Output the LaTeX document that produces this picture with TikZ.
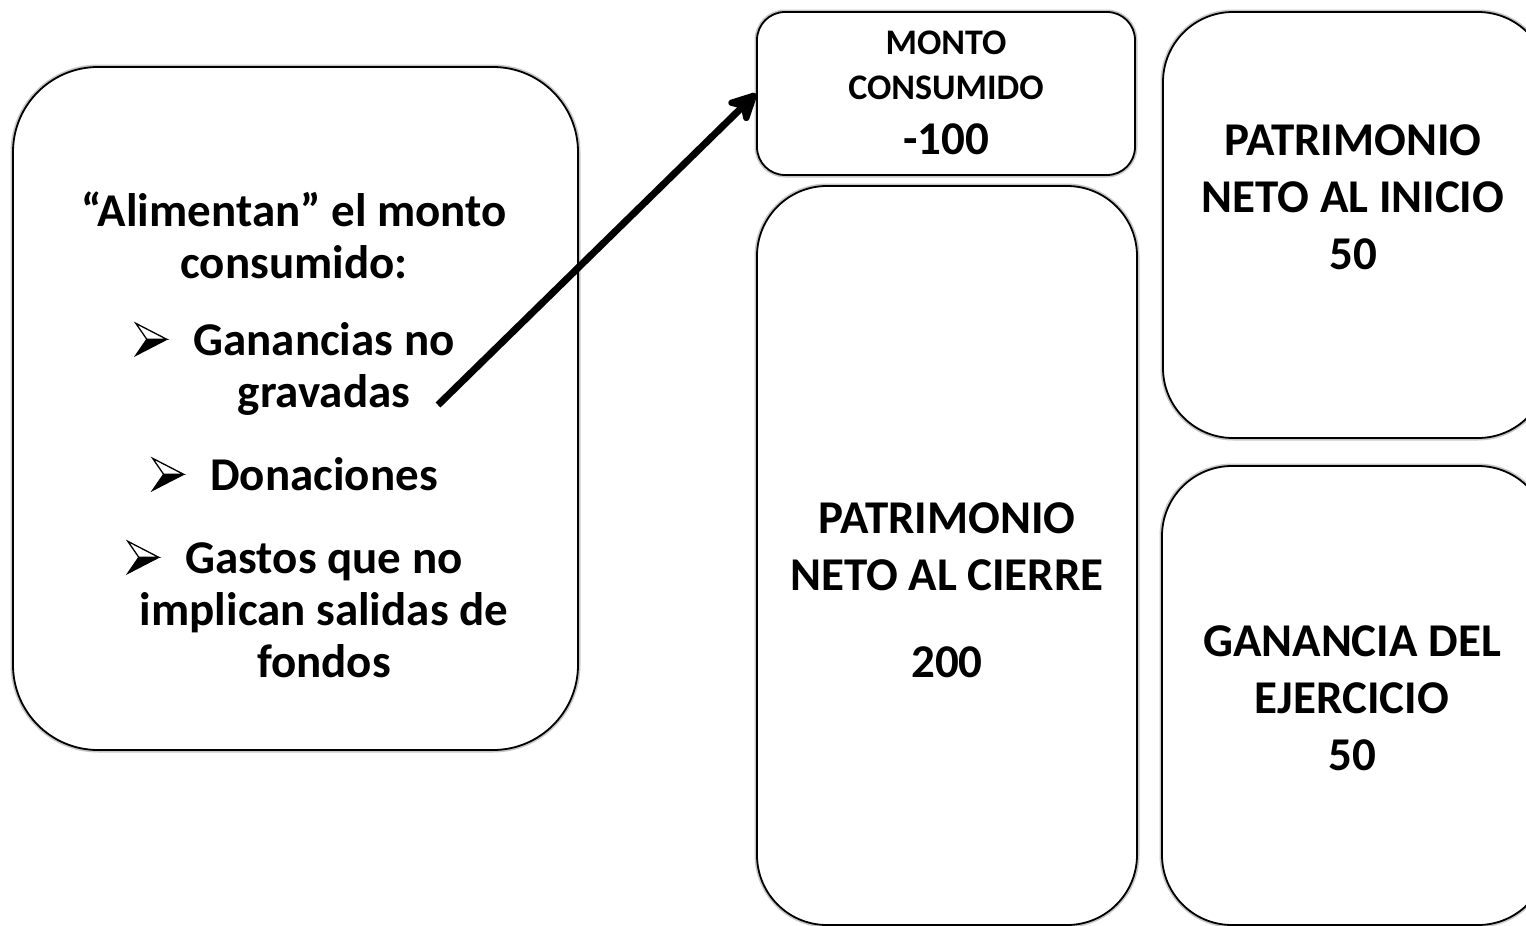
\documentclass[tikz,border=0pt]{standalone}
\usepackage{fontspec}
\setmainfont{Carlito}
\usetikzlibrary{arrows.meta}
\newcommand{\bul}{\llap{\tikz[baseline=0pt,x=1pt,y=1pt,line join=miter]{
  \fill[black] (31,16) -- (11,16) -- (0,0) -- cycle;
  \draw[line width=1.3pt, fill=white] (31,16) -- (0,32) -- (11,16) -- cycle;
  \draw[line width=1.3pt] (31,16) -- (0,0) -- (11,16);}\hspace{26pt}}}
\tikzset{
  roundbox/.style={draw=black, line width=1.8pt, fill=white, rectangle, inner sep=0pt,
    preaction={draw=black!22, line width=5pt}},
  bigtxt/.style={align=center, font=\fontsize{47}{57}\selectfont\bfseries},
  lefttxt/.style={align=center, font=\fontsize{47}{52}\selectfont\bfseries},
  monttxt/.style={align=center, font=\fontsize{36}{45}\selectfont\bfseries},
  arrowline/.style={line width=7pt, -{Stealth[length=36pt,width=36pt,inset=11pt,round]}}
}
\begin{document}
\begin{tikzpicture}[x=1pt,y=-1pt]
\useasboundingbox (0,0) rectangle (1526,926);
\clip (0,0) rectangle (1526,926);
\fill[white] (0,0) rectangle (1526,926);

% boxes
\node[roundbox, rounded corners=85pt, minimum width=565pt, minimum height=683pt] (leftbox) at (295.5,408.5) {};
\node[roundbox, rounded corners=28pt, minimum width=378pt, minimum height=163pt] (monto) at (946,93.5) {};
\node[roundbox, rounded corners=70pt, minimum width=380pt, minimum height=739pt] (cierre) at (947,555.5) {};
\node[roundbox, rounded corners=70pt, minimum width=385pt, minimum height=426pt] (inicio) at (1355.5,225) {};
\node[roundbox, rounded corners=70pt, minimum width=386pt, minimum height=459pt] (ganancia) at (1355,695.5) {};

% texts
\node[lefttxt] (head) at (294,235) {“Alimentan” el monto\\consumido:};
\node[lefttxt] (items) at (324,500) {\bul Ganancias no\\gravadas\\[31pt]\bul Donaciones\\[31pt]\bul Gastos que no\\implican salidas de\\fondos};

\node[monttxt] (montotxt) at (946,92.5)
  {MONTO\\CONSUMIDO\\[10pt]\fontsize{47}{55}\selectfont -100};
\node[bigtxt] (iniciotxt) at (1353,197.5) {PATRIMONIO\\NETO AL INICIO\\50};
\node[bigtxt] (cierretxt) at (947,590) {PATRIMONIO\\NETO AL CIERRE\\[30pt]200};
\node[bigtxt] (gananciatxt) at (1352,698.5) {GANANCIA DEL\\EJERCICIO\\50};

% arrow
\coordinate (tail) at (438,405);
\draw[arrowline] (tail) -- (monto.west);
\end{tikzpicture}
\end{document}
